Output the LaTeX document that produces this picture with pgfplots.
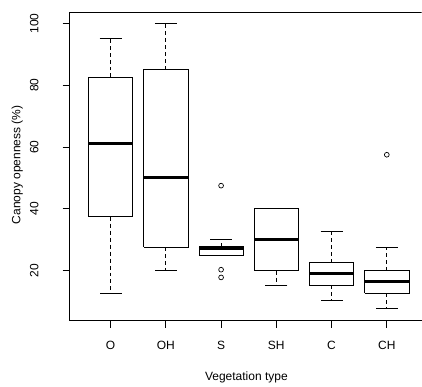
\documentclass[border=0pt]{standalone}
\usepackage{pgfplots}
\usepackage{pgfplotstable}
\pgfplotsset{compat=1.18}
\usepackage{fontspec}
\setmainfont{Liberation Sans}
% position, lower whisker, lower quartile, median, upper quartile, upper whisker
\pgfplotstableread{
x lw q1 med q3 uw
1 12.5 37.5 61.2 82.5 95
2 20 27.5 50 85 100
3 25 25 27.3 27.8 30
4 15.3 20 30 40 40
5 10.3 15.3 19 22.6 32.7
6 7.7 12.6 16.5 20 27.5
}\stats
\begin{document}
\begin{tikzpicture}
\begin{axis}[
  at={(69.8bp,62bp)}, anchor=south west,
  scale only axis, width=352.2bp, height=309bp,
  xmin=0.26, xmax=6.63, ymin=3.8, ymax=103.7,
  axis x line*=bottom, axis y line*=left,
  axis line style={line width=0.8bp, black},
  xtick={1,2,3,4,5,6}, xticklabels={O,OH,S,SH,C,CH},
  ytick={20,40,60,80,100},
  tick align=outside, major tick length=7bp,
  tick style={line width=0.8bp, black},
  /pgf/number format/assume math mode=true,
  tick label style={font=\fontsize{12bp}{14bp}\selectfont},
  yticklabel style={rotate=90, anchor=south, inner sep=0pt},
  yticklabel shift=24bp,
  xticklabel style={anchor=north, inner sep=0pt},
  xticklabel shift=13bp,
  xlabel={Vegetation type}, ylabel={Canopy openness (\%)},
  every axis x label/.style={at={(rel axis cs:0.502,0)}, yshift=-57bp, anchor=center, font=\fontsize{12bp}{14bp}\selectfont},
  every axis y label/.style={at={(rel axis cs:0,0.505)}, xshift=-52.5bp, rotate=90, anchor=center, font=\fontsize{12bp}{14bp}\selectfont},
  whisk/.style={draw=none, mark=none,
      error bars/y explicit,
      error bars/error bar style={draw=black, line width=0.8bp, dash pattern=on 4bp off 3bp},
      error bars/error mark options={draw=black, solid, rotate=90, mark size=11.06bp, line width=0.8bp}},
  boxst/.style={black, line width=0.8bp, fill=white},
  medst/.style={black, line width=3bp},
]
\draw[line width=0.8bp] (rel axis cs:0,1) -- (rel axis cs:1,1);
% whiskers (dashed, solid caps)
\addplot[whisk, error bars/y dir=plus] table[x=x, y=q3, y error plus expr=\thisrow{uw}-\thisrow{q3}] {\stats};
\addplot[whisk, error bars/y dir=minus] table[x=x, y=q1, y error minus expr=\thisrow{q1}-\thisrow{lw}] {\stats};
% boxes (lower quartile to upper quartile, width 0.8)
\addplot[boxst] coordinates {(0.6,37.5) (1.4,37.5) (1.4,82.5) (0.6,82.5) (0.6,37.5)};
\addplot[boxst] coordinates {(1.6,27.5) (2.4,27.5) (2.4,85) (1.6,85) (1.6,27.5)};
\addplot[boxst] coordinates {(2.6,25) (3.4,25) (3.4,27.8) (2.6,27.8) (2.6,25)};
\addplot[boxst] coordinates {(3.6,20) (4.4,20) (4.4,40) (3.6,40) (3.6,20)};
\addplot[boxst] coordinates {(4.6,15.3) (5.4,15.3) (5.4,22.6) (4.6,22.6) (4.6,15.3)};
\addplot[boxst] coordinates {(5.6,12.6) (6.4,12.6) (6.4,20) (5.6,20) (5.6,12.6)};
% medians
\addplot[medst] coordinates {(0.6,61.2) (1.4,61.2)};
\addplot[medst] coordinates {(1.6,50) (2.4,50)};
\addplot[medst] coordinates {(2.6,27.3) (3.4,27.3)};
\addplot[medst] coordinates {(3.6,30) (4.4,30)};
\addplot[medst] coordinates {(4.6,19) (5.4,19)};
\addplot[medst] coordinates {(5.6,16.5) (6.4,16.5)};
% outliers
\addplot[black, only marks, mark=o, mark size=2.4bp, mark options={line width=0.7bp}] coordinates {(3,47.5) (3,20.3) (3,17.8) (6,57.5)};
\end{axis}
\path (0,0) rectangle (422bp,383bp);
\end{tikzpicture}
\end{document}
